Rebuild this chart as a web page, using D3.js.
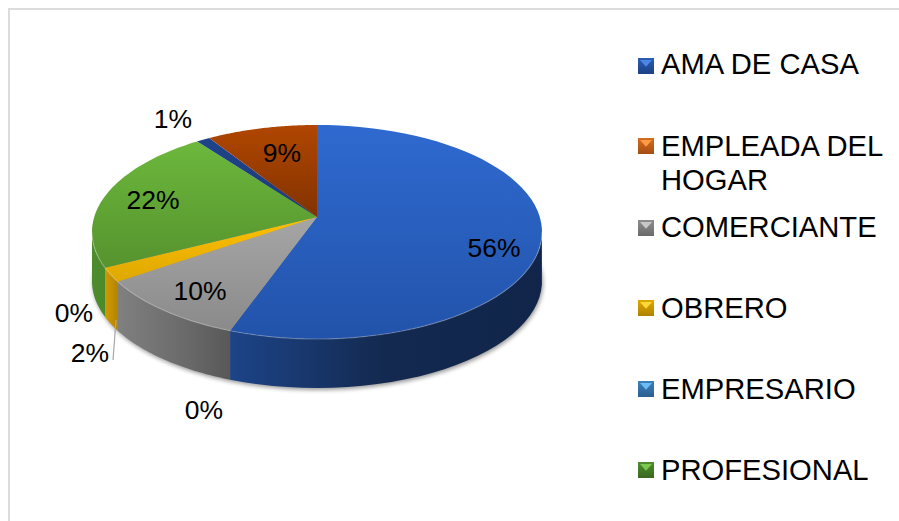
<!DOCTYPE html>
<html><head><meta charset="utf-8">
<script src="https://cdnjs.cloudflare.com/ajax/libs/d3/7.8.5/d3.min.js"></script>
<style>html,body{margin:0;background:#fff}svg{display:block}text{font-family:"Liberation Sans",Arial,sans-serif;fill:#000}</style>
</head><body><svg id="c" width="899" height="521"></svg>
<script>
const categories=["AMA DE CASA","EMPLEADA DEL HOGAR","COMERCIANTE","OBRERO","EMPRESARIO","PROFESIONAL","",""];
const values=[55.5,0,9.9,2.1,0,22.3,1.1,9.1];
const labels=["56%","0%","10%","2%","0%","22%","1%","9%"];
const topLight=["#2f6ad0","#e8742a","#a6a6a6","#ffc000","#5b9bd5","#6cb83c","#1f4389","#b04600"];
const topDark=["#2253aa","#c05f1e","#8a8a8a","#dea800","#4a80b0","#56932e","#1c3c7a","#823300"];
const sideLight=["#1d4488","#a5501c","#808080","#cf9a00","#3c6c96","#4c8c2c","#172f5e","#6a2c00"];
const sideMid=["#13294f","#8a4414","#6a6a6a","#c08e00","#345e84","#478528","#142848","#5e2600"];
const sideDark=["#11254a","#7a3a10","#585858","#b08400","#2c5070","#427a28","#122448","#551f00"];
const swatch=["#2a5db5","#d96a1e","#8e8e8e","#e0a800","#3d80bd","#4f8c2f"];
const swatchHi=["#4d86e6","#ff9a45","#c8c8c8","#ffd83a","#6cbcf5","#7dc850"];
const swatchLo=["#1c4186","#a34e14","#6a6a6a","#ad8200","#2b5f8f","#39691f"];
const legendRows=[[0,["AMA DE CASA"],74,58],[1,["EMPLEADA DEL","HOGAR"],156,138],[2,["COMERCIANTE"],237,220],[3,["OBRERO"],318,300],[4,["EMPRESARIO"],399,381],[5,["PROFESIONAL"],480,462]];
const labelPos=[[494,257],[204,419],[200,300],[90,362],[74,322],[153,209],[173,128],[282,162]];

const svg=d3.select("#c");
const defs=svg.append("defs");
const cx=317,cy=217,A=222.8,B=104.9,k=0.14,depth=49;
const proj=a=>{const w=1+k*Math.cos(a);return [cx+A*Math.sin(a)/w,cy-B*Math.cos(a)/w];};
const line=d3.line();
const arcs=d3.pie().sort(null).value(d=>d)(values);

svg.append("rect").attr("x",9).attr("y",9).attr("width",900).attr("height",530)
  .attr("fill","#fff").attr("stroke","#dcdcdc").attr("stroke-width",2);

defs.append("filter").attr("id","blur").attr("x","-10%").attr("y","-10%").attr("width","120%").attr("height","120%")
  .append("feGaussianBlur").attr("stdDeviation",2.2);

const samples=(a0,a1)=>d3.range(0,61).map(i=>a0+(a1-a0)*i/60);
svg.append("path").attr("d",line(d3.range(0,241).map(i=>{const p=proj(i/240*2*Math.PI);return [p[0]+1,p[1]+depth+2];})))
  .attr("fill","#000").attr("opacity",.4).attr("filter","url(#blur)");

arcs.forEach((d,i)=>{
  const g=defs.append("linearGradient").attr("id","t"+i).attr("x1",0).attr("y1",0).attr("x2",0).attr("y2",1);
  g.append("stop").attr("offset",0).attr("stop-color",topLight[i]);
  g.append("stop").attr("offset",1).attr("stop-color",topDark[i]);
  const xs=samples(d.startAngle,d.endAngle).map(a=>proj(a)[0]);
  const s=defs.append("linearGradient").attr("id","s"+i).attr("gradientUnits","userSpaceOnUse")
    .attr("x1",d3.min(xs)).attr("x2",d3.max(xs)).attr("y1",0).attr("y2",0);
  s.append("stop").attr("offset",0).attr("stop-color",sideLight[i]);
  s.append("stop").attr("offset",i===0?0.5:0.6).attr("stop-color",sideMid[i]);
  s.append("stop").attr("offset",1).attr("stop-color",sideDark[i]);
});
defs.selectAll("linearGradient.sw").data(swatch).join("linearGradient").attr("class","sw")
  .attr("id",(d,i)=>"w"+i).attr("x1",0).attr("y1",0).attr("x2",0).attr("y2",1)
  .call(g=>{g.append("stop").attr("offset",0).attr("stop-color",(d,i)=>swatch[i]);
            g.append("stop").attr("offset",1).attr("stop-color",(d,i)=>swatchLo[i]);});

const widest=Math.acos(-k);
const visible=a=>{const n=((a%(2*Math.PI))+2*Math.PI)%(2*Math.PI);return n>=widest&&n<=2*Math.PI-widest;};
arcs.forEach((d,i)=>{
  if(d.value===0)return;
  const pts=samples(d.startAngle,d.endAngle).filter(visible);
  if(pts.length<2)return;
  const up=pts.map(proj), down=pts.map(proj).reverse().map(p=>[p[0],p[1]+depth]);
  svg.append("path").attr("d",line(up.concat(down))+"Z").attr("fill",`url(#s${i})`);
});

arcs.forEach((d,i)=>{
  if(d.value===0)return;
  const pts=[[cx,cy]].concat(samples(d.startAngle,d.endAngle).map(proj));
  svg.append("path").attr("d",line(pts)+"Z").attr("fill",`url(#t${i})`);
});

svg.append("path").attr("d",line(samples(widest,2*Math.PI-widest).map(proj)))
  .attr("fill","none").attr("stroke","#fff").attr("stroke-opacity",.25).attr("stroke-width",1.2);

svg.append("path").attr("d",line([[116,320],[113,360]])).attr("fill","none").attr("stroke","#a6a6a6").attr("stroke-width",1.2);

svg.append("g").selectAll("text").data(labels).join("text")
  .attr("x",(d,i)=>labelPos[i][0]).attr("y",(d,i)=>labelPos[i][1])
  .attr("text-anchor","middle").attr("font-size",26.5).text(d=>d);

legendRows.forEach(([i,lines,y,sy])=>{
  const g=svg.append("g");
  const x0=638,s=16;
  g.append("rect").attr("x",x0).attr("y",sy).attr("width",s).attr("height",s).attr("fill",`url(#w${i})`);
  g.append("path").attr("d",line([[x0+2,sy+2],[x0+s-2,sy+2],[x0+s/2,sy+s*0.55]])+"Z").attr("fill",swatchHi[i]);
  lines.forEach((t,j)=>g.append("text").attr("x",661).attr("y",y+j*34).attr("font-size",29.2).text(t));
});
</script></body></html>
